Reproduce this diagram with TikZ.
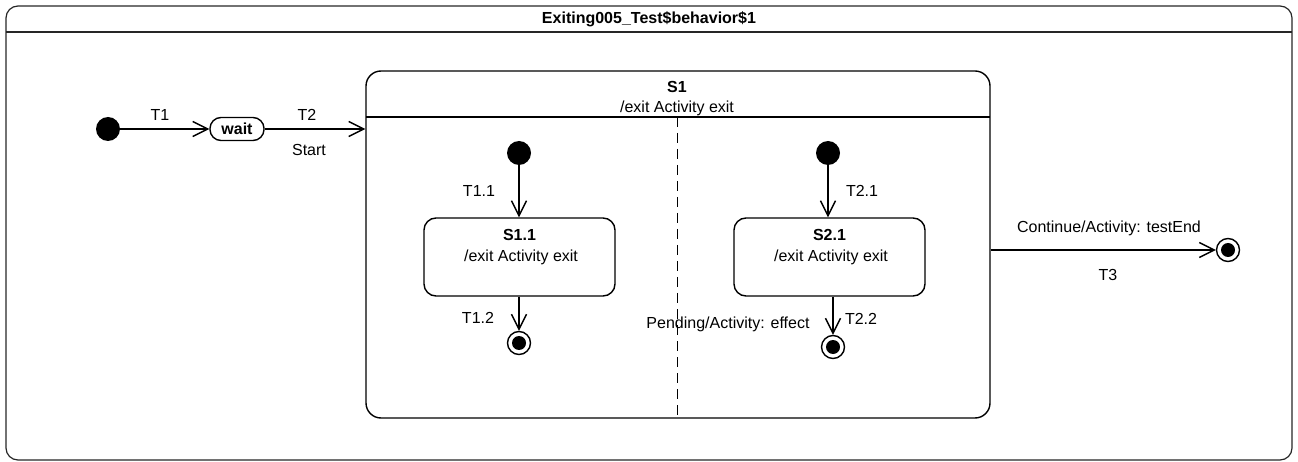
\documentclass[tikz,border=0pt]{standalone}
\usepackage{fontspec}
\setmainfont{Liberation Sans}
\usetikzlibrary{arrows.meta,positioning}

\begin{document}
\begin{tikzpicture}[x=1pt,y=-1pt,>={Straight Barb[length=15pt,width=15pt]},
    every node/.style={font=\fontsize{16}{19}\selectfont},
    lbl/.style={inner sep=1pt},
    bold/.style={font=\fontsize{16}{19}\selectfont\bfseries},
    tr/.style={->,line width=1.4pt},
    statebox/.style={draw,line width=1.4pt,rounded corners=12pt,inner sep=0pt},
    initst/.style={circle,fill=black,inner sep=0pt,minimum size=24pt},
    finalst/.style={circle,draw,line width=1.4pt,inner sep=0pt,minimum size=23pt,
      path picture={\fill (path picture bounding box.center) circle (7pt);}}]
    \useasboundingbox (0,0) rectangle (1298,462);

    % frame of the behavior
    \draw[black!85,line width=1.2pt,rounded corners=12pt] (6,6) rectangle (1292,460);
    \draw[black!85,line width=1.2pt] (6,32) -- (1292,32);
    \node[bold] (title) at (649,19) {Exiting005\_Test\$behavior\$1};

    % outer states
    \node[initst] (ini0) at (108,129) {};
    \node[statebox,rounded corners=11pt,minimum width=54pt,minimum height=23pt,bold] (wait) at (237,129) {wait};

    % composite state S1
    \node[statebox,rounded corners=15pt,minimum width=624pt,minimum height=347pt] (s1) at (678,244.5) {};
    \node[bold] (s1name) at (677,87) {S1};
    \node (s1exit) at (677,108) {/exit Activity exit};
    \draw[line width=1.4pt] (366,117) -- (990,117);
    \draw[line width=1pt,dash pattern=on 10pt off 6pt] (677,117) -- (677,418);

    % region 1
    \node[initst] (ini1) at (519,153) {};
    \node[statebox,minimum width=191pt,minimum height=78pt] (s11) at (519.5,257) {};
    \node[bold] (s11name) at (519.5,235) {S1.1};
    \node (s11exit) at (521,257) {/exit Activity exit};
    \node[finalst] (fin1) at (519,343) {};

    % region 2
    \node[initst] (ini2) at (828,153) {};
    \node[statebox,minimum width=191pt,minimum height=78pt] (s21) at (829.5,257) {};
    \node[bold] (s21name) at (829.5,235) {S2.1};
    \node (s21exit) at (831,257) {/exit Activity exit};
    \node[finalst] (fin2) at (833,347) {};

    \node[finalst] (fin3) at (1228,250) {};

    % transitions
    \draw[tr] (ini0) -- (wait);
    \draw[tr] (wait.east) -- (wait.east -| s1.west);
    \draw[tr] (ini1) -- (ini1 |- s11.north);
    \draw[tr] (s11.south -| fin1) -- (fin1);
    \draw[tr] (ini2) -- (ini2 |- s21.north);
    \draw[tr] (s21.south -| fin2) -- (fin2);
    \draw[tr] (s1.east |- fin3) -- (fin3);

    % transition labels
    \node[lbl] (t1) at (160,115) {T1};
    \node[lbl] (t2) at (307,115) {T2};
    \node[lbl] (start) at (309,150) {Start};
    \node[lbl] (t11) at (479,191) {T1.1};
    \node[lbl] (t12) at (478,318) {T1.2};
    \node[lbl] (t21) at (862,191) {T2.1};
    \node[lbl] (t22) at (861,319) {T2.2};
    \node[lbl] (pending) at (728,324) {Pending/Activity: effect};
    \node[lbl] (cont) at (1109,228) {Continue/Activity: testEnd};
    \node[lbl] (t3) at (1108,275) {T3};
\end{tikzpicture}
\end{document}
